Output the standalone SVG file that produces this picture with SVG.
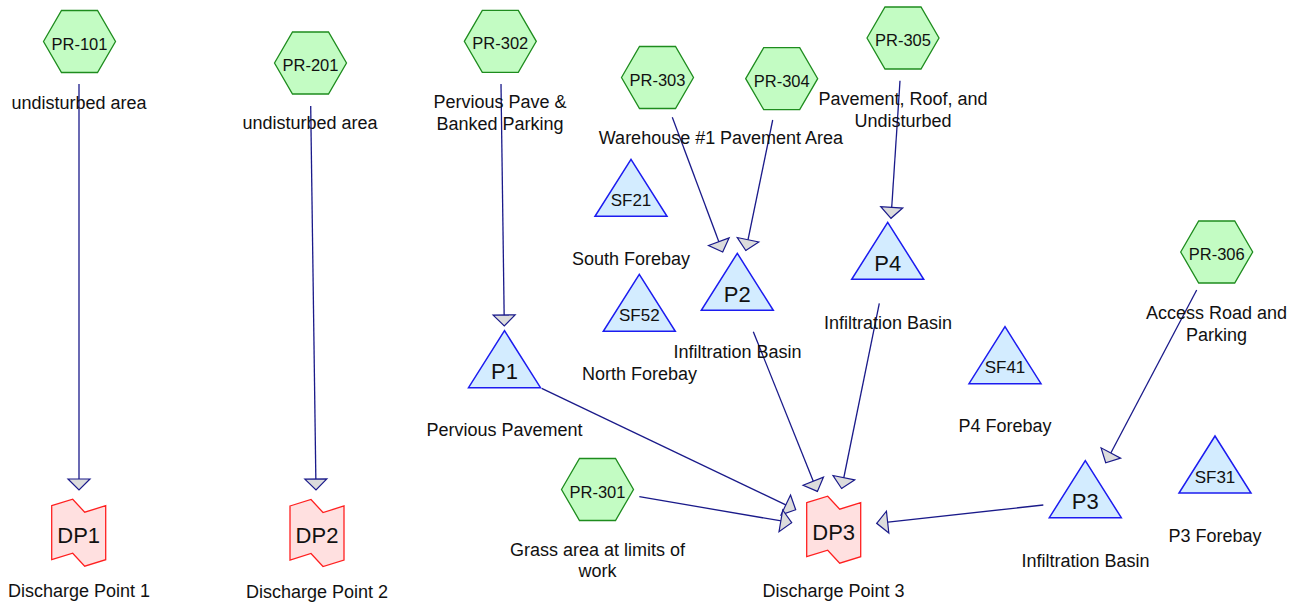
<svg xmlns="http://www.w3.org/2000/svg" xmlns:xlink="http://www.w3.org/1999/xlink" width="1299" height="607" viewBox="0 0 1299 607">
<style>
  .hex { fill: #c3fcc3; stroke: #1e8c1e; stroke-width: 1.3; }
  .tri { fill: #d3ecff; stroke: #1c1cf0; stroke-width: 1.5; }
  .dp { fill: #ffe0e0; stroke: #ff2020; stroke-width: 1.3; }
  .conn { stroke: #1a1a8a; stroke-width: 1.3; fill: none; marker-end: url(#arr); }
  text { font-family: "Liberation Sans", Arial, sans-serif; fill: #111; text-anchor: middle; }
  .lbl { font-size: 18px; }
  .hx { font-size: 16.5px; }
  .sf { font-size: 17px; }
  .big { font-size: 22px; }
</style>
<defs>
  <polygon id="hexshape" points="-36,0 -18,-31 18,-31 36,0 18,31 -18,31"/>
  <polygon id="trishape" points="0,0 -36,57 36,57"/>
  <polygon id="dpshape" points="0,0 21,-6.5 33,6.5 54,0 54,54 33,60.5 21,47.5 0,54"/>
  <marker id="arr" markerUnits="userSpaceOnUse" viewBox="-2 -2 15 26" markerWidth="15" markerHeight="26" refX="11" refY="11" orient="auto" overflow="visible">
    <path d="M0,0 L11,11 L0,22 Z" fill="#dcdcdc" stroke="#1a1a8a" stroke-width="1.2" stroke-linejoin="miter"/>
  </marker>
</defs>
<rect width="1299" height="607" fill="#ffffff"/>

<g id="connectors">
  <line class="conn" x1="79" y1="84" x2="79" y2="490"/>
  <line class="conn" x1="310.7" y1="106" x2="316" y2="490"/>
  <line class="conn" x1="501" y1="84" x2="504.3" y2="326"/>
  <line class="conn" x1="672.3" y1="117.3" x2="722.7" y2="252"/>
  <line class="conn" x1="772.7" y1="120" x2="745.8" y2="250.5"/>
  <line class="conn" x1="900" y1="80.7" x2="891" y2="218.3"/>
  <line class="conn" x1="879.3" y1="303.3" x2="841.6" y2="488.5"/>
  <line class="conn" x1="753.3" y1="331.7" x2="817.4" y2="491.4"/>
  <line class="conn" x1="541.7" y1="388.3" x2="795.7" y2="509.7"/>
  <line class="conn" x1="639.3" y1="496.7" x2="791.7" y2="522.7"/>
  <line class="conn" x1="1043.3" y1="505" x2="876.7" y2="523.3"/>
  <line class="conn" x1="1196.7" y1="290" x2="1105.7" y2="462.7"/>
</g>

<g id="PR-101">
  <use href="#hexshape" class="hex" x="79.5" y="41.5"/>
  <text class="hx" x="79.5" y="49.5">PR-101</text>
  <text class="lbl" x="79" y="109">undisturbed area</text>
</g>
<g id="PR-201">
  <use href="#hexshape" class="hex" x="310.5" y="63"/>
  <text class="hx" x="310.5" y="71">PR-201</text>
  <text class="lbl" x="310" y="129">undisturbed area</text>
</g>
<g id="PR-302">
  <use href="#hexshape" class="hex" x="500.3" y="41.3"/>
  <text class="hx" x="500.3" y="49.3">PR-302</text>
  <text class="lbl" x="500" y="108.3">Pervious Pave &amp;</text>
  <text class="lbl" x="500" y="130">Banked Parking</text>
</g>
<g id="PR-303">
  <use href="#hexshape" class="hex" x="657.5" y="77.5"/>
  <text class="hx" x="657.5" y="85.5">PR-303</text>
  <text class="lbl" x="657" y="144">Warehouse #1</text>
</g>
<g id="PR-304">
  <use href="#hexshape" class="hex" x="781.7" y="78.7"/>
  <text class="hx" x="781.7" y="86.7">PR-304</text>
  <text class="lbl" x="781.5" y="144">Pavement Area</text>
</g>
<g id="PR-305">
  <use href="#hexshape" class="hex" x="903" y="38"/>
  <text class="hx" x="903" y="46">PR-305</text>
  <text class="lbl" x="903" y="105">Pavement, Roof, and</text>
  <text class="lbl" x="903" y="126.7">Undisturbed</text>
</g>
<g id="PR-306">
  <use href="#hexshape" class="hex" x="1216.7" y="252"/>
  <text class="hx" x="1216.7" y="260">PR-306</text>
  <text class="lbl" x="1216.5" y="319">Access Road and</text>
  <text class="lbl" x="1216.5" y="340.7">Parking</text>
</g>
<g id="PR-301">
  <use href="#hexshape" class="hex" x="597.5" y="489.5"/>
  <text class="hx" x="597.5" y="497.5">PR-301</text>
  <text class="lbl" x="597.5" y="556">Grass area at limits of</text>
  <text class="lbl" x="597.5" y="576.7">work</text>
</g>

<g id="SF21">
  <use href="#trishape" class="tri" x="631" y="159.3"/>
  <text class="sf" x="631" y="206">SF21</text>
  <text class="lbl" x="631" y="265">South Forebay</text>
</g>
<g id="SF52">
  <use href="#trishape" class="tri" x="639.3" y="274.3"/>
  <text class="sf" x="639.3" y="320.5">SF52</text>
  <text class="lbl" x="639.5" y="380">North Forebay</text>
</g>
<g id="P2">
  <use href="#trishape" class="tri" x="737.3" y="253.3"/>
  <text class="big" x="737.3" y="301.7">P2</text>
  <text class="lbl" x="737.5" y="358.3">Infiltration Basin</text>
</g>
<g id="P4">
  <use href="#trishape" class="tri" x="887.7" y="222.3"/>
  <text class="big" x="887.7" y="271">P4</text>
  <text class="lbl" x="888" y="329">Infiltration Basin</text>
</g>
<g id="P1">
  <use href="#trishape" class="tri" x="504.5" y="330.7"/>
  <text class="big" x="504.5" y="378.5">P1</text>
  <text class="lbl" x="504.5" y="436">Pervious Pavement</text>
</g>
<g id="SF41">
  <use href="#trishape" class="tri" x="1005" y="326.7"/>
  <text class="sf" x="1005" y="373.3">SF41</text>
  <text class="lbl" x="1005" y="432.3">P4 Forebay</text>
</g>
<g id="P3">
  <use href="#trishape" class="tri" x="1085.3" y="460.7"/>
  <text class="big" x="1085.3" y="509.3">P3</text>
  <text class="lbl" x="1085.5" y="566.7">Infiltration Basin</text>
</g>
<g id="SF31">
  <use href="#trishape" class="tri" x="1215" y="436"/>
  <text class="sf" x="1215" y="482.7">SF31</text>
  <text class="lbl" x="1215" y="541.7">P3 Forebay</text>
</g>

<g id="DP1">
  <use href="#dpshape" class="dp" x="51.7" y="505.7"/>
  <text class="big" x="78.7" y="542.7">DP1</text>
  <text class="lbl" x="79" y="597">Discharge Point 1</text>
</g>
<g id="DP2">
  <use href="#dpshape" class="dp" x="290" y="506"/>
  <text class="big" x="317" y="542.7">DP2</text>
  <text class="lbl" x="317" y="598">Discharge Point 2</text>
</g>
<g id="DP3">
  <use href="#dpshape" class="dp" x="806.7" y="502.7"/>
  <text class="big" x="833.7" y="540">DP3</text>
  <text class="lbl" x="833.5" y="597">Discharge Point 3</text>
</g>
</svg>
